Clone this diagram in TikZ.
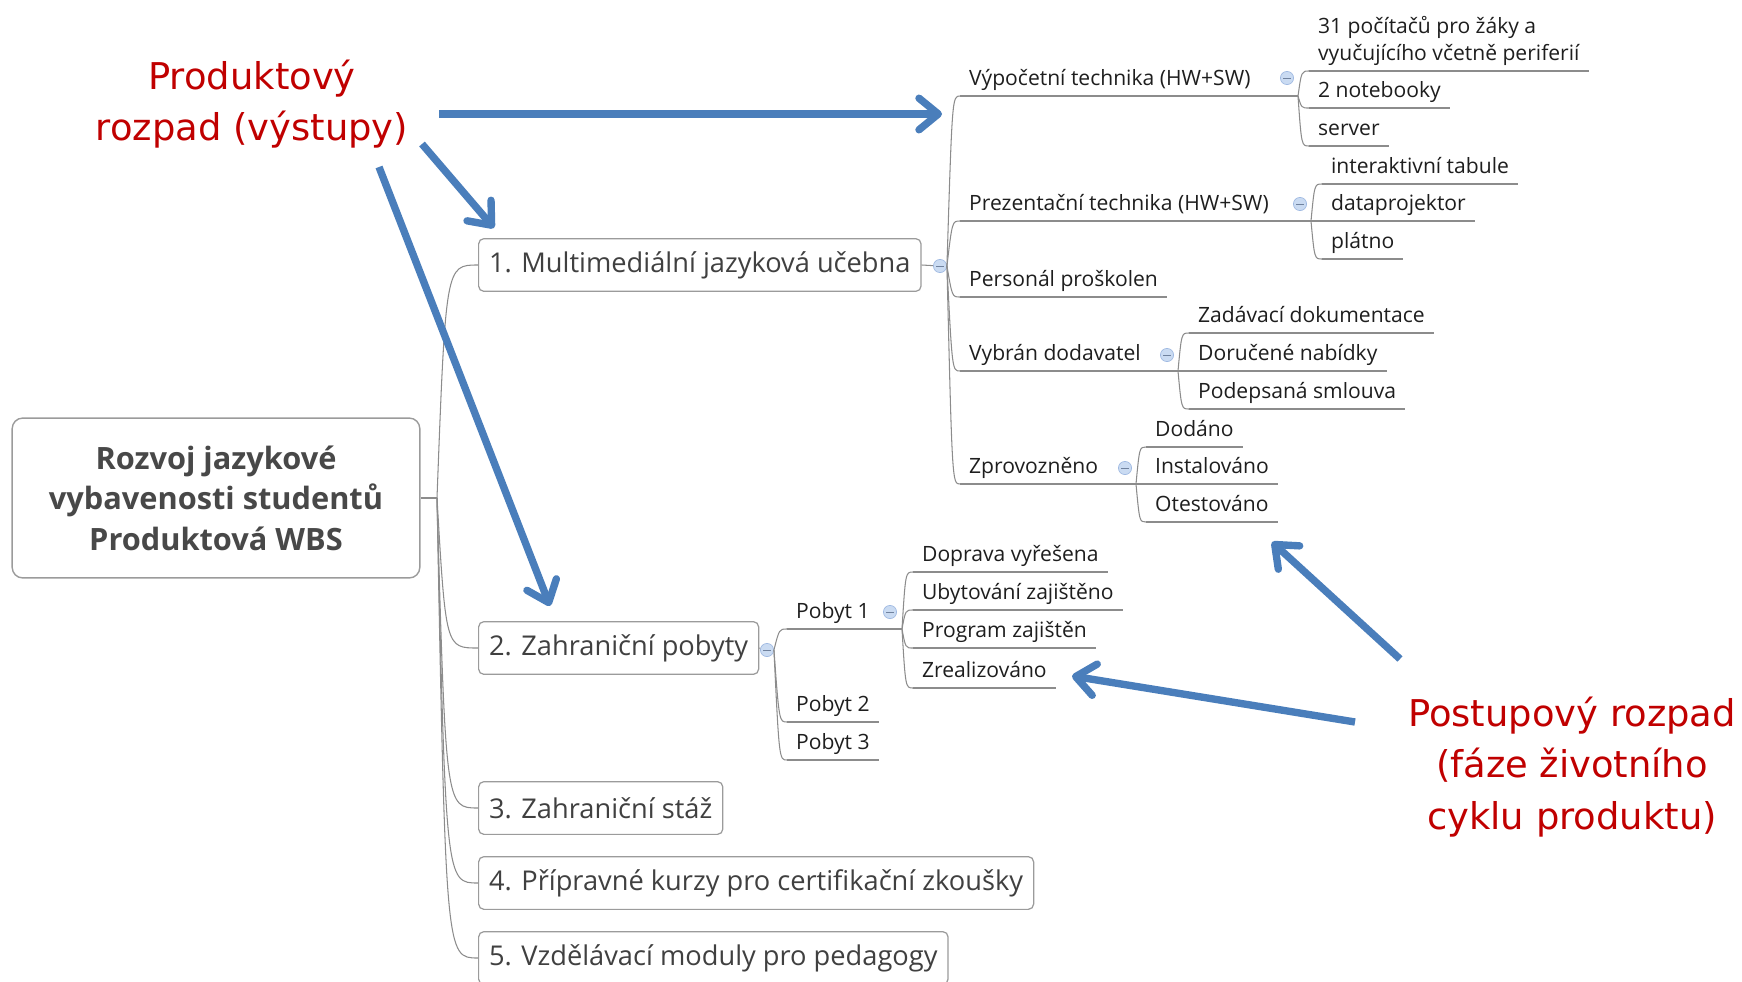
\documentclass[tikz,border=0pt]{standalone}
\usepackage{fontspec}
\setmainfont{Open Sans}
\newfontfamily\notefont{DejaVu Sans}
\usepackage{tikz}
\usetikzlibrary{arrows.meta}
\definecolor{twiggray}{RGB}{140,140,140}
\definecolor{boxline}{RGB}{155,155,155}
\definecolor{topictext}{RGB}{64,64,64}
\definecolor{roottext}{RGB}{72,72,72}
\definecolor{itemtext}{RGB}{30,30,30}
\definecolor{knobfill}{RGB}{202,219,242}
\definecolor{knobline}{RGB}{160,186,226}
\definecolor{notered}{RGB}{192,0,0}
\definecolor{arrowblue}{RGB}{74,126,187}

\begin{document}
\begin{tikzpicture}[
    x=0.02cm, y=-0.02cm,
    root/.style={rectangle, rounded corners=6pt, draw=boxline, line width=0.8pt, fill=white, minimum width=232pt, minimum height=91pt, align=center, text=roottext, font=\bfseries\fontsize{17.5}{23}\selectfont},
    topic/.style={rectangle, rounded corners=3pt, draw=boxline, line width=0.7pt, fill=white, anchor=west, minimum height=30pt, inner xsep=6pt, text=topictext, font=\fontsize{15.5}{18}\selectfont},
    item/.style={anchor=south west, inner xsep=5pt, inner ysep=2.5pt, text depth=3pt, text=itemtext, font=\fontsize{12}{15.5}\selectfont},
    knob/.style={circle, draw=knobline, fill=knobfill, minimum size=7.5pt, inner sep=0pt, path picture={\draw[knobline!70!black, line width=0.5pt] ([xshift=-2pt]path picture bounding box.center) -- ([xshift=2pt]path picture bounding box.center);}},
    twig/.style={draw=twiggray, line width=0.6pt},
    note/.style={align=center, text=notered, font=\notefont\fontsize{21}{29.5}\selectfont},
    pointer/.style={draw=arrowblue, line width=4.2pt, -{Straight Barb[length=11pt,width=18pt,round]}}
]
\useasboundingbox (0,0) rectangle (1742,981);
\clip (0,0) rectangle (1742,981);

% Root and first level
\node[root] (wbs) at (216,498) {Rozvoj jazykové\\vybavenosti studentů\\Produktová WBS};
\coordinate (hub) at (437,498);

\node[topic] (m1) at (478,265) {1. Multimediální jazyková učebna};
\node[topic] (m2) at (478,648) {2. Zahraniční pobyty};
\node[topic] (m3) at (478,808) {3. Zahraniční stáž};
\node[topic] (m4) at (478,883) {4. Přípravné kurzy pro certifikační zkoušky};
\node[topic] (m5) at (478,958) {5. Vzdělávací moduly pro pedagogy};

\node[knob] (k1) at (940,266) {};
\node[knob] (k2) at (767,650) {};

% Multimedialni ucebna
\node[item] (vyp) at (960,96) {Výpočetní technika (HW+SW)};
\node[item] (pre) at (960,221) {Prezentační technika (HW+SW)};
\node[item] (per) at (960,297) {Personál proškolen};
\node[item] (vyb) at (960,371) {Vybrán dodavatel};
\node[item] (zpr) at (960,484) {Zprovozněno};

\coordinate (jvyp) at (1298,96);
\coordinate (jpre) at (1311,221);
\coordinate (jvyb) at (1178,371);
\coordinate (jzpr) at (1136,484);
\node[knob] (kvyp) at (1287,78) {};
\node[knob] (kpre) at (1300,204) {};
\node[knob] (kvyb) at (1167,355) {};
\node[knob] (kzpr) at (1125,468) {};

\node[item, align=left] (pc) at (1309,71) {31 počítačů pro žáky a\\vyučujícího včetně periferií};
\node[item] (nb) at (1309,108) {2 notebooky};
\node[item] (srv) at (1309,146) {server};
\node[item] (tab) at (1322,184) {interaktivní tabule};
\node[item] (dpr) at (1322,221) {dataprojektor};
\node[item] (pla) at (1322,259) {plátno};
\node[item] (zad) at (1189,333) {Zadávací dokumentace};
\node[item] (dor) at (1189,371) {Doručené nabídky};
\node[item] (pod) at (1189,409) {Podepsaná smlouva};
\node[item] (dod) at (1146,447) {Dodáno};
\node[item] (ins) at (1146,484) {Instalováno};
\node[item] (ote) at (1146,522) {Otestováno};

% Zahranicni pobyty
\node[item] (p1) at (787,629) {Pobyt 1};
\node[item] (p2) at (787,722) {Pobyt 2};
\node[item] (p3) at (787,760) {Pobyt 3};
\coordinate (jp1) at (902,629);
\node[knob] (kp1) at (890,612) {};

\node[item] (dop) at (913,572) {Doprava vyřešena};
\node[item] (uby) at (913,610) {Ubytování zajištěno};
\node[item] (prg) at (913,648) {Program zajištěn};
\node[item] (zre) at (913,688) {Zrealizováno};

% Branches
\draw[twig] (wbs.east) -- (hub);
\draw[twig] (m1.east) -- (k1);
\draw[twig] (m2.east) -- (k2);
\foreach \t in {m1,m2,m3,m4,m5}
    \draw[twig] (hub) .. controls ([xshift=5pt]hub |- \t.west) .. (\t.west);
\foreach \f/\t in {k1.east/vyp, k1.east/pre, k1.east/per, k1.east/vyb, k1.east/zpr,
                   k2.east/p1, k2.east/p2, k2.east/p3}
    \draw[twig] (\f) .. controls ([xshift=3pt]\f |- \t.south west) .. (\t.south west);
\foreach \f/\t in {jvyp/pc, jvyp/nb, jvyp/srv, jpre/tab, jpre/dpr, jpre/pla,
                   jvyb/zad, jvyb/dor, jvyb/pod, jzpr/dod, jzpr/ins, jzpr/ote,
                   jp1/dop, jp1/uby, jp1/prg, jp1/zre}
    \draw[twig] (\f) .. controls ([xshift=2pt]\f |- \t.south west) .. (\t.south west);

% Underlines
\foreach \n/\j in {vyp/jvyp, pre/jpre, vyb/jvyb, zpr/jzpr, p1/jp1}
    \draw[twig] (\n.south west) -- (\j);
\foreach \n in {per, pc, nb, srv, tab, dpr, pla, zad, dor, pod, dod, ins, ote, p2, p3, dop, uby, prg, zre}
    \draw[twig] (\n.south west) -- (\n.south east);

% Annotations
\node[note] (prod) at (252,104) {Produktový\\rozpad (výstupy)};
\node[note] (post) at (1572,767) {Postupový rozpad\\(fáze životního\\cyklu produktu)};

\coordinate (a1s) at (439,114);  \coordinate (a1e) at (942,114);
\coordinate (a2s) at (422,144);  \coordinate (a2e) at (494,228);
\coordinate (a3s) at (379,167);  \coordinate (a3e) at (550,606);
\coordinate (a4s) at (1400,659); \coordinate (a4e) at (1272,542);
\coordinate (a5s) at (1355,722); \coordinate (a5e) at (1072,676);

\draw[pointer] (a1s) -- (a1e);
\draw[pointer] (a2s) -- (a2e);
\draw[pointer] (a3s) -- (a3e);
\draw[pointer] (a4s) -- (a4e);
\draw[pointer] (a5s) -- (a5e);

\end{tikzpicture}
\end{document}
